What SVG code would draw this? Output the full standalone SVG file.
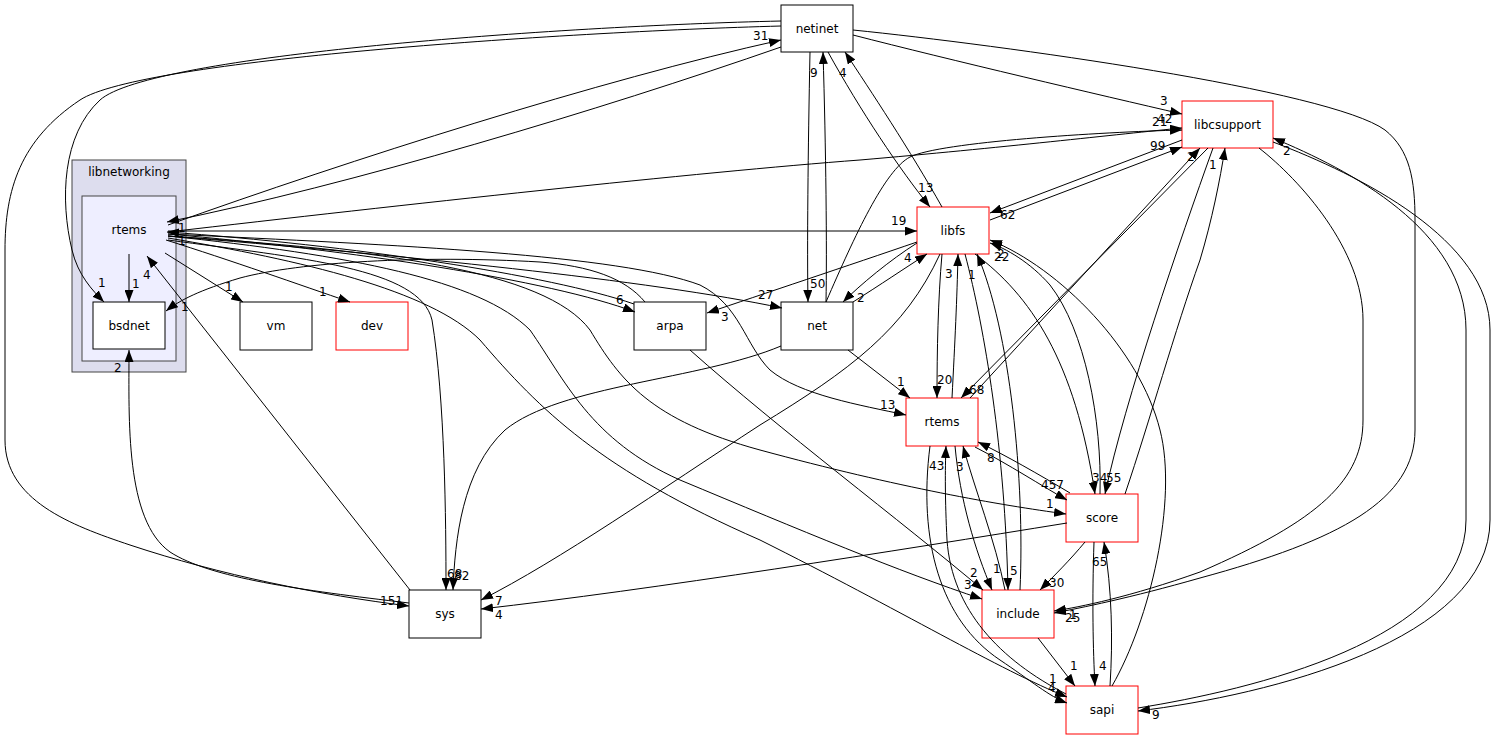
<svg xmlns="http://www.w3.org/2000/svg" width="1496" height="740" viewBox="0 0 1496 740">
<style>
text{font-family:"DejaVu Sans","Liberation Sans",sans-serif;font-size:12px;fill:#000}
.n{text-anchor:middle}
.box{fill:#fff;stroke:#000;stroke-width:1}
.red{fill:#fff;stroke:#ff0000;stroke-width:1}
.e{fill:none;stroke:#000;stroke-width:1;marker-end:url(#a)}
</style>
<defs>
<marker id="a" markerWidth="12" markerHeight="9" refX="12" refY="4.5" orient="auto" markerUnits="userSpaceOnUse">
<path d="M0,0 L12,4.5 L0,9 z" fill="#000"/>
</marker>
</defs>
<rect width="1496" height="740" fill="#fff"/>
<g id="cluster_libnetworking">
<rect x="72" y="160" width="114" height="212" fill="#ddddee" stroke="#444" stroke-width="1"/>
<text class="n" x="129" y="176">libnetworking</text>
</g>
<g id="node_rtems_net">
<rect x="82" y="196" width="94" height="165" fill="#eeeeff" stroke="#444" stroke-width="1"/>
<text class="n" x="129" y="234">rtems</text>
</g>
<g id="node_bsdnet"><rect class="box" x="93" y="302" width="72" height="47"/><text class="n" x="129" y="330">bsdnet</text></g>
<g id="node_vm"><rect class="box" x="240" y="302" width="72" height="48"/><text class="n" x="276" y="330">vm</text></g>
<g id="node_dev"><rect class="red" x="336" y="302" width="72" height="48"/><text class="n" x="372" y="330">dev</text></g>
<g id="node_netinet"><rect class="box" x="781" y="5" width="72" height="47"/><text class="n" x="817" y="33">netinet</text></g>
<g id="node_libcsupport"><rect class="red" x="1182" y="101" width="91" height="47"/><text class="n" x="1227.5" y="129">libcsupport</text></g>
<g id="node_libfs"><rect class="red" x="917" y="207" width="72" height="47"/><text class="n" x="953" y="235">libfs</text></g>
<g id="node_arpa"><rect class="box" x="634" y="302" width="72" height="48"/><text class="n" x="670" y="330">arpa</text></g>
<g id="node_net"><rect class="box" x="781" y="302" width="72" height="48"/><text class="n" x="817" y="330">net</text></g>
<g id="node_rtems"><rect class="red" x="906" y="398" width="72" height="48"/><text class="n" x="942" y="426">rtems</text></g>
<g id="node_score"><rect class="red" x="1066" y="494" width="72" height="48"/><text class="n" x="1102" y="522">score</text></g>
<g id="node_sys"><rect class="box" x="409" y="590" width="72" height="48"/><text class="n" x="445" y="618">sys</text></g>
<g id="node_include"><rect class="red" x="982" y="590" width="72" height="48"/><text class="n" x="1018" y="618">include</text></g>
<g id="node_sapi"><rect class="red" x="1066" y="686" width="72" height="48"/><text class="n" x="1102" y="714">sapi</text></g>
<g id="edges">
<path class="e" d="M781,21 C560,26 150,55 100,100 C62,135 60,200 72,250 C78,275 92,290 104,302"/>
<path class="e" d="M781,26 C560,32 140,60 80,100 C20,140 5,190 5,250 L5,440 C5,500 70,525 130,545 C220,575 320,595 409,606"/>
<path class="e" d="M409,603 C300,590 210,578 170,552 C125,520 129,420 129,350"/>
<path class="e" d="M168,225 C350,160 600,80 781,40"/>
<path class="e" d="M781,47 C600,110 350,185 167,222"/>
<path class="e" d="M168,232 C400,205 700,172 860,160 C1000,148 1120,134 1182,128"/>
<path class="e" d="M826,302 C855,235 885,170 910,157 C940,142 1100,132 1182,130"/>
<path class="e" d="M853,35 C950,60 1100,95 1182,114"/>
<path class="e" d="M853,30 C1000,45 1330,90 1385,130 C1410,150 1415,180 1415,220 L1415,430 C1415,500 1340,540 1200,578 C1130,598 1080,608 1054,613"/>
<path class="e" d="M1259,148 C1300,180 1363,250 1363,320 L1363,420 C1363,480 1320,520 1200,572 C1130,597 1080,607 1054,611"/>
<path class="e" d="M1138,708 C1250,690 1466,640 1466,520 L1466,330 C1466,230 1350,170 1273,138"/>
<path class="e" d="M1273,142 C1360,175 1490,240 1490,330 L1490,520 C1490,640 1270,695 1138,711"/>
<path class="e" d="M990,220 L1182,147"/>
<path class="e" d="M1182,140 L990,213"/>
<path class="e" d="M970,398 L1200,148"/>
<path class="e" d="M1208,148 L961,398"/>
<path class="e" d="M1125,494 C1150,420 1175,330 1200,260 C1212,220 1220,180 1225,148"/>
<path class="e" d="M1213,148 C1180,240 1125,400 1105,494"/>
<path class="e" d="M975,254 C1030,295 1075,360 1095,494"/>
<path class="e" d="M1100,494 C1102,420 1085,330 1050,285 C1030,262 1005,248 990,243"/>
<path class="e" d="M1112,686 C1150,620 1178,500 1160,430 C1140,350 1060,268 990,240"/>
<path class="e" d="M975,447 C1010,465 1040,485 1067,500"/>
<path class="e" d="M1070,493 C1040,475 1005,455 978,442"/>
<path class="e" d="M168,236 C380,250 545,270 590,330 C620,380 650,420 760,450 C900,488 1000,505 1066,514"/>
<path class="e" d="M168,236 C350,255 480,280 530,330 C565,380 590,440 680,480 C800,530 900,572 982,599"/>
<path class="e" d="M168,238 C300,260 430,290 480,340 C540,410 600,470 760,540 C900,610 1000,670 1067,697"/>
<path class="e" d="M1067,523 C900,550 650,590 481,609"/>
<path class="e" d="M940,254 C905,330 850,370 760,425 C660,490 560,560 481,600"/>
<path class="e" d="M781,346 C700,380 560,385 505,430 C462,470 455,540 453,590"/>
<path class="e" d="M168,240 C300,258 420,268 432,320 C445,400 446,520 446,590"/>
<path class="e" d="M410,590 L147,256"/>
<path class="e" d="M129,254 L129,302"/>
<path class="e" d="M645,302 C625,278 590,266 540,262 C420,255 300,262 240,278 C200,290 180,300 166,311"/>
<path class="e" d="M168,234 C350,250 550,280 635,312"/>
<path class="e" d="M634,304 C550,275 350,245 167,232"/>
<path class="e" d="M168,236 C400,255 650,280 782,308"/>
<path class="e" d="M168,234 C400,245 620,255 700,285 C740,305 745,345 770,370 C800,395 860,405 906,415"/>
<path class="e" d="M168,231 L917,231"/>
<path class="e" d="M165,253 L243,302"/>
<path class="e" d="M166,240 C230,260 300,285 350,302"/>
<path class="e" d="M810,52 C808,150 807,250 808,302"/>
<path class="e" d="M826,302 C827,250 826,150 823,52"/>
<path class="e" d="M828,52 C860,110 900,170 930,207"/>
<path class="e" d="M942,207 C910,150 870,90 845,52"/>
<path class="e" d="M917,242 C850,265 760,295 707,313"/>
<path class="e" d="M917,243 C890,260 860,285 843,302"/>
<path class="e" d="M853,302 C880,285 905,268 927,254"/>
<path class="e" d="M848,350 L910,398"/>
<path class="e" d="M942,254 C938,300 937,350 937,398"/>
<path class="e" d="M952,398 C955,340 957,300 958,254"/>
<path class="e" d="M1020,590 C1025,480 1010,330 977,254"/>
<path class="e" d="M965,254 C985,330 1005,450 1008,590"/>
<path class="e" d="M955,446 C960,500 975,550 992,590"/>
<path class="e" d="M1005,590 C995,540 975,490 963,446"/>
<path class="e" d="M690,350 C780,430 900,520 983,590"/>
<path class="e" d="M1085,542 C1070,560 1055,575 1040,590"/>
<path class="e" d="M1038,638 L1075,686"/>
<path class="e" d="M1094,542 C1092,600 1093,650 1095,686"/>
<path class="e" d="M1110,686 C1113,640 1112,590 1104,542"/>
<path class="e" d="M930,446 C918,540 940,620 1000,660 C1030,680 1050,697 1067,703"/>
<path class="e" d="M1066,694 C1000,660 952,610 947,540 C945,500 945,470 946,446"/>
<g id="edge_labels">
<text x="753" y="40">31</text>
<text x="810" y="77">9</text>
<text x="839" y="77">4</text>
<text x="1160" y="105">3</text>
<text x="1152" y="126">21</text>
<text x="1157" y="123">42</text>
<text x="1150" y="150">99</text>
<text x="1187" y="161">2</text>
<text x="1209" y="169">1</text>
<text x="1283" y="155">2</text>
<text x="918" y="192">13</text>
<text x="891" y="225">19</text>
<text x="1000" y="219">62</text>
<text x="904" y="262">4</text>
<text x="945" y="278">3</text>
<text x="968" y="279">1</text>
<text x="994" y="261">22</text>
<text x="997" y="258">2</text>
<text x="178" y="232">1</text>
<text x="178" y="245">1</text>
<text x="98" y="287">1</text>
<text x="132" y="288">1</text>
<text x="143" y="279">4</text>
<text x="181" y="311">1</text>
<text x="114" y="372">2</text>
<text x="225" y="291">1</text>
<text x="319" y="296">1</text>
<text x="616" y="304">6</text>
<text x="721" y="321">3</text>
<text x="758" y="299">27</text>
<text x="810" y="288">50</text>
<text x="857" y="302">2</text>
<text x="897" y="386">1</text>
<text x="937" y="384">20</text>
<text x="969" y="394">68</text>
<text x="880" y="409">13</text>
<text x="929" y="470">43</text>
<text x="956" y="471">3</text>
<text x="987" y="462">8</text>
<text x="1041" y="489">457</text>
<text x="1092" y="482">34</text>
<text x="1106" y="482">55</text>
<text x="1046" y="508">1</text>
<text x="1092" y="566">65</text>
<text x="447" y="578">68</text>
<text x="454" y="580">82</text>
<text x="380" y="605">151</text>
<text x="495" y="605">7</text>
<text x="495" y="619">4</text>
<text x="970" y="577">2</text>
<text x="993" y="573">1</text>
<text x="1010" y="575">5</text>
<text x="964" y="589">3</text>
<text x="1049" y="587">30</text>
<text x="1065" y="622">25</text>
<text x="1069" y="619">1</text>
<text x="1070" y="670">1</text>
<text x="1099" y="670">4</text>
<text x="1049" y="683">1</text>
<text x="1048" y="692">4</text>
<text x="1152" y="719">9</text>
</g>
</g>
</svg>
